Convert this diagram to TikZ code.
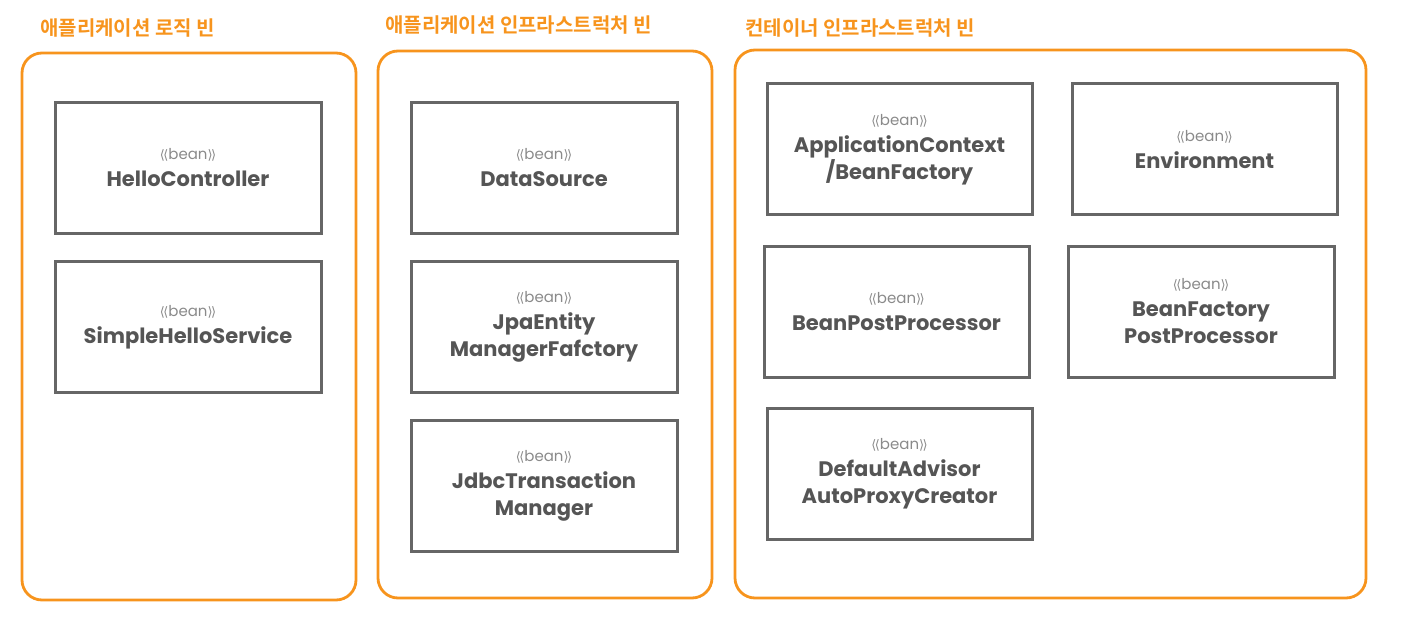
\documentclass[tikz,border=0pt]{standalone}
\usepackage{fontspec}
\usepackage{graphicx}
\setmainfont{Poppins}
\newfontfamily\kofont{Noto Sans CJK KR}[BoldFont={* Bold}]
\newfontfamily\djv{DejaVu Sans}
\definecolor{orng}{HTML}{F7941D}
\definecolor{boxgray}{HTML}{666666}
\definecolor{txtgray}{HTML}{555555}
\definecolor{beangray}{HTML}{8A8A8A}
\newcommand{\beanlbl}{{\fontsize{15}{15}\selectfont\mdseries\color{beangray}{\djv\fontsize{13}{13}\selectfont ⟨\kern-1.5pt⟨}bean{\djv\fontsize{13}{13}\selectfont ⟩\kern-1.5pt⟩}}}
\tikzset{
  container/.style={draw=orng, line width=2.8pt, rounded corners=20pt},
  grouptitle/.style={anchor=west, text=orng, font=\kofont\bfseries\fontsize{20}{22}\selectfont, inner sep=0pt},
  beanbox/.style={draw=boxgray, line width=3pt, minimum width=266pt, minimum height=131pt,
    inner sep=0pt, align=center, text=txtgray, font=\bfseries\fontsize{21}{27}\selectfont},
}
\begin{document}
\begin{tikzpicture}[x=1pt,y=-1pt]
\useasboundingbox (0,0) rectangle (1408,631);
% containers
\draw[container] (22,53) rectangle (356,600);
\draw[container] (378,51) rectangle (712,598);
\draw[container] (735,50) rectangle (1366,598);
% titles
\node[grouptitle] (t1) at (40,28) {애플리케이션 로직 빈};
\node[grouptitle] (t2) at (385,25) {애플리케이션 인프라스트럭처 빈};
\node[grouptitle] (t3) at (745,28) {컨테이너 인프라스트럭처 빈};
% left beans
\node[beanbox] (hc) at (188,168) {\beanlbl\\HelloController};
\node[beanbox] (shs) at (188,327) {\beanlbl\\SimpleHelloService};
% middle beans
\node[beanbox] (ds) at (544,168) {\beanlbl\\DataSource};
\node[beanbox] (jpa) at (544,327) {\beanlbl\\JpaEntity\\ManagerFafctory};
\node[beanbox] (jdbc) at (544,486) {\beanlbl\\JdbcTransaction\\Manager};
% right beans
\node[beanbox, minimum width=265pt] (ac) at (899.5,149.5) {\beanlbl\\ApplicationContext\\/BeanFactory};
\node[beanbox, minimum width=265pt] (env) at (1204.5,149.5) {\beanlbl\\Environment};
\node[beanbox, minimum width=265pt] (bpp) at (896.5,311.5) {\beanlbl\\BeanPostProcessor};
\node[beanbox, minimum width=266pt] (bfpp) at (1201,311.5) {\beanlbl\\BeanFactory\\PostProcessor};
\node[beanbox, minimum width=265pt] (daapc) at (899.5,473.5) {\beanlbl\\DefaultAdvisor\\AutoProxyCreator};
\end{tikzpicture}
\end{document}
